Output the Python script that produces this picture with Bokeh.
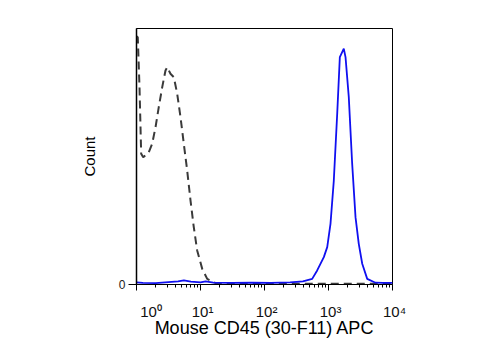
from bokeh.plotting import figure
from bokeh.models import Range1d, FixedTicker, ColumnDataSource
from bokeh.embed import file_html
from bokeh.resources import INLINE

# ---- data (log10 of fluorescence, % of max count) ----
blue_log = [0.0, 0.1, 0.3, 0.5, 0.65, 0.74, 0.85, 1.0, 1.08, 1.2, 1.5, 1.8, 2.1, 2.4, 2.6,
            2.745, 2.823, 2.927, 2.98, 3.031, 3.083, 3.136, 3.177, 3.239, 3.266, 3.317,
            3.37, 3.422, 3.473, 3.527, 3.605, 3.734, 3.85, 4.0]
blue_cnt = [0.8, 0.6, 0.5, 0.9, 1.2, 1.6, 1.1, 0.8, 1.2, 0.7, 0.6, 0.7, 0.6, 0.8, 1.2,
            2.2, 5.5, 10.7, 14.6, 23.7, 40.6, 66.7, 88.8, 92.1, 88.8, 73.2,
            47.1, 26.3, 15.9, 8.1, 2.2, 0.7, 0.6, 0.6]

iso_log = [0.0, 0.02, 0.047, 0.073, 0.105, 0.192, 0.245, 0.297, 0.348, 0.402, 0.453, 0.48,
           0.531, 0.583, 0.636, 0.6875, 0.739, 0.792, 0.844, 0.895, 0.948, 1.027, 1.105,
           1.23, 1.6, 2.0, 2.5, 3.0, 3.5, 4.0]
iso_cnt = [97.0, 96.6, 77.1, 51.1, 49.7, 51.7, 55.0, 61.4, 69.3, 77.1, 83.6, 84.9,
           82.3, 81.0, 74.5, 65.4, 55.0, 44.5, 32.8, 22.4, 13.3, 6.1, 2.2,
           0.6, 0.4, 0.3, 0.3, 0.3, 0.3, 0.3]

decades = [0, 1, 2, 3, 4]
sup = ["\u2070", "\u00b9", "\u00b2", "\u00b3", "\u2074"]
y_ticks = [0]
x_title = "Mouse CD45 (30-F11) APC"
y_title = "Count"

FONT = "Liberation Sans"
NB = "\u00a0"

p = figure(width=478, height=353, x_axis_type="log",
           x_range=Range1d(10 ** decades[0], 10 ** decades[-1]), y_range=Range1d(0, 100),
           output_backend="svg", toolbar_location=None,
           min_border_left=136, min_border_right=86, min_border_top=28, min_border_bottom=69)
p.grid.visible = False
p.outline_line_color = "black"
p.outline_line_width = 1
p.background_fill_color = "white"
p.border_fill_color = "white"

iso_src = ColumnDataSource(dict(x=[10 ** v for v in iso_log], y=iso_cnt))
blue_src = ColumnDataSource(dict(x=[10 ** v for v in blue_log], y=blue_cnt))
p.line("x", "y", source=iso_src, line_color="#3a3a3a", line_width=2, line_dash="8 5")
p.line("x", "y", source=blue_src, line_color="#1010f0", line_width=1.8)

# x axis
xa = p.xaxis[0]
tick_vals = [10 ** d for d in decades]
minor = [m * 10 ** d for d in decades[:-1] for m in range(2, 10)]
xa.ticker = FixedTicker(ticks=tick_vals, minor_ticks=minor)
overrides = {}
for i, (t, s) in enumerate(zip(tick_vals, sup)):
    pad = NB * 7 if i == 0 else NB
    overrides[t] = pad + "10" + s
xa.major_label_overrides = overrides
xa.major_label_text_font = FONT
xa.major_label_text_font_size = "15px"
xa.major_label_text_color = "#111111"
xa.major_label_standoff = 12
xa.major_tick_in = 0
xa.major_tick_out = 6
xa.minor_tick_in = 0
xa.minor_tick_out = 3
xa.axis_line_color = "black"
xa.major_tick_line_color = "black"
xa.minor_tick_line_color = "black"
xa.axis_label = x_title
xa.axis_label_text_font = FONT
xa.axis_label_text_font_size = "18px"
xa.axis_label_text_font_style = "normal"
xa.axis_label_text_color = "black"
xa.axis_label_standoff = -5

# y axis
ya = p.yaxis[0]
ya.ticker = FixedTicker(ticks=y_ticks, minor_ticks=[])
ya.major_label_text_font = FONT
ya.major_label_text_font_size = "12px"
ya.major_label_text_color = "#222222"
ya.major_label_standoff = 3
ya.major_tick_in = 0
ya.major_tick_out = 8
ya.minor_tick_out = 0
ya.axis_line_color = "black"
ya.axis_line_width = 1.5
ya.axis_label = y_title
ya.axis_label_text_font = FONT
ya.axis_label_text_font_size = "15px"
ya.axis_label_text_font_style = "normal"
ya.axis_label_text_color = "black"
ya.axis_label_standoff = 18

open("out.html", "w").write(file_html(p, INLINE))
